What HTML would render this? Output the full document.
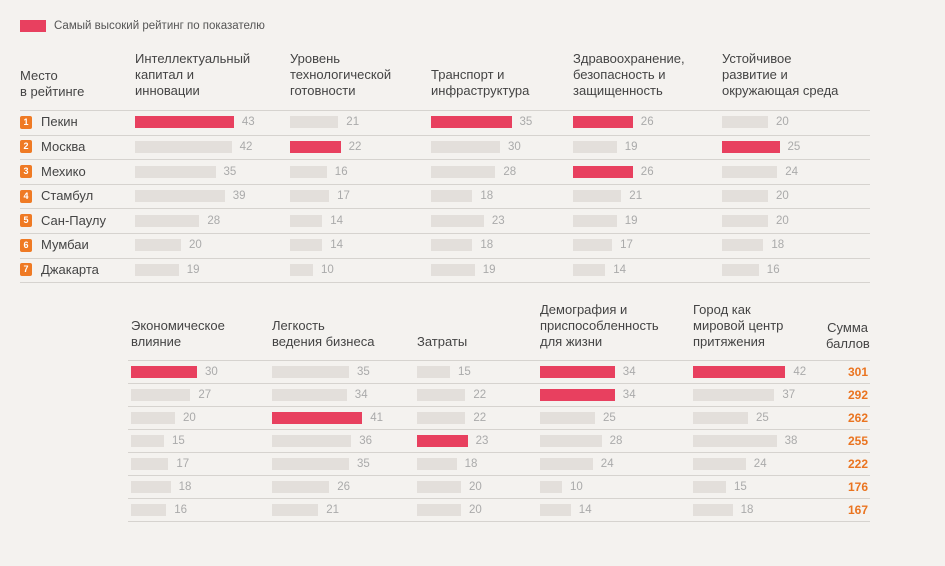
<!DOCTYPE html>
<html><head><meta charset="utf-8">
<style>
body{margin:0;background:#f4f2ef;width:945px;height:566px;overflow:hidden;font-family:"Liberation Sans",sans-serif;}
#c{position:relative;width:945px;height:566px;}
.a{position:absolute;}
.hdr{font-size:13px;line-height:16px;color:#444;}
.val{font-size:11.5px;color:#aaa;line-height:14px;}
.line{height:1px;background:#d6d3cf;}
.city{font-size:13px;color:#444;line-height:16px;}
.badge{width:12px;height:13px;background:#ef7a24;border-radius:2px;color:#fff;font-size:9px;line-height:13px;text-align:center;font-weight:bold;}
.sum{font-size:12px;color:#ea7420;font-weight:bold;line-height:14px;text-align:right;width:40px;}
</style></head><body>
<div id="c">
  <div class="a" style="left:20px;top:20px;width:26px;height:12px;background:#e8405f"></div>
  <div class="a" style="left:54px;top:19px;font-size:11.5px;color:#555;line-height:14px">Самый высокий рейтинг по показателю</div>
  <div class="a hdr" style="left:20px;top:68px">Место<br>в рейтинге</div>
  <div class="a hdr" style="left:826px;top:320px;text-align:right;width:42px">Сумма<br>баллов</div>
</div>
<script>
const cities=["Пекин","Москва","Мехико","Стамбул","Сан-Паулу","Мумбаи","Джакарта"];
const topCats=["Интеллектуальный<br>капитал и<br>инновации","Уровень<br>технологической<br>готовности","Транспорт и<br>инфраструктура","Здравоохранение,<br>безопасность и<br>защищенность","Устойчивое<br>развитие и<br>окружающая среда"];
const topVals=[[43,42,35,39,28,20,19],[21,22,16,17,14,14,10],[35,30,28,18,23,18,19],[26,19,26,21,19,17,14],[20,25,24,20,20,18,16]];
const botCats=["Экономическое<br>влияние","Легкость<br>ведения бизнеса","Затраты","Демография и<br>приспособленность<br>для жизни","Город как<br>мировой центр<br>притяжения"];
const botVals=[[30,27,20,15,17,18,16],[35,34,41,36,35,26,21],[15,22,22,23,18,20,20],[34,34,25,28,24,10,14],[42,37,25,38,24,15,18]];
const sums=[301,292,262,255,222,176,167];

const c=document.getElementById('c');
function el(cls,style,html){const d=document.createElement('div');d.className='a '+cls;d.style.cssText=style;if(html!==undefined)d.innerHTML=html;c.appendChild(d);return d;}

function panel(cats,vals,xs,x0,x1,lineTop,rowH,scale,hdrBottom,pfx){
  for(let r=0;r<=7;r++){
    const l=el('line','left:'+x0+'px;top:'+Math.round(lineTop+r*rowH)+'px;width:'+(x1-x0)+'px');
    
    
  }
  cats.forEach((cat,i)=>{
    const n=cat.split('<br>').length;
    const h=el('hdr','left:'+xs[i]+'px;top:'+(hdrBottom-n*16)+'px',cat);
    
    
    const mx=Math.max(...vals[i]);
    vals[i].forEach((v,r)=>{
      const cy=lineTop+r*rowH+rowH/2;
      const w=v*scale;
      const b=el('bar','left:'+xs[i]+'px;top:'+Math.round(cy-6)+'px;width:'+w.toFixed(1)+'px;height:12px;background:'+(v===mx?'#e8405f':'#e3dfdb'));
      
      
      const t=el('val','left:'+(xs[i]+w+8).toFixed(1)+'px;top:'+Math.round(cy-7)+'px',String(v));
      
      
    });
  });
}
panel(topCats,topVals,[135,290,431,573,722],20,870,110,24.6,2.3,99,'top');
panel(botCats,botVals,[131,272,417,540,693],128,870,360,23,2.2,350,'bottom');

cities.forEach((name,r)=>{
  const cy=110+r*24.6+12.3;
  const b=el('badge','left:20px;top:'+Math.round(cy-6.5)+'px',String(r+1));
  
  
  const t=el('city','left:41px;top:'+Math.round(cy-8)+'px',name);
  
  
});
sums.forEach((s,r)=>{
  const cy=360+r*23+11.5;
  const t=el('sum','left:828px;top:'+Math.round(cy-7)+'px',String(s));
  
  
});
</script>
</body></html>
